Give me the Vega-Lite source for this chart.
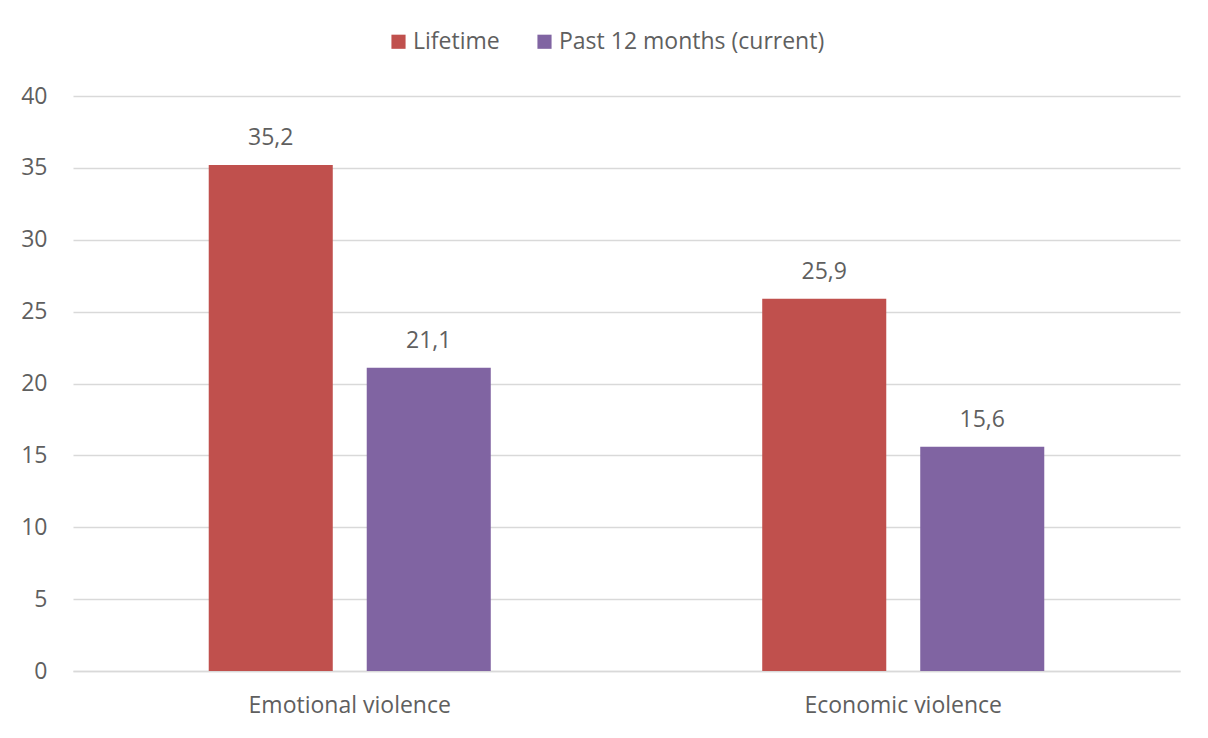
{
  "$schema": "https://vega.github.io/schema/vega-lite/v6.json",
  "autosize": {"type": "none"},
  "width": 1107,
  "height": 575,
  "padding": {"left": 73, "top": 96, "right": 28, "bottom": 67},
  "background": "white",
  "config": {
    "locale": {"number": {"decimal": ",", "thousands": ".", "grouping": [3], "currency": ["", ""]}},
    "view": {"stroke": null},
    "font": "Open Sans",
    "text": {"font": "Open Sans"}
  },
  "data": {
    "values": [
      {"category": "Emotional violence", "series": "Lifetime", "value": 35.2},
      {"category": "Emotional violence", "series": "Past 12 months (current)", "value": 21.1},
      {"category": "Economic violence", "series": "Lifetime", "value": 25.9},
      {"category": "Economic violence", "series": "Past 12 months (current)", "value": 15.6}
    ]
  },
  "encoding": {
    "x": {
      "field": "category",
      "type": "nominal",
      "sort": ["Emotional violence", "Economic violence"],
      "scale": {"paddingInner": 0, "paddingOuter": 0},
      "axis": {
        "title": null,
        "labelAngle": 0,
        "labelLimit": 0,
        "labelFont": "Open Sans",
        "labelFontSize": 23,
        "labelColor": "#5F5F5F",
        "labelPadding": 23,
        "ticks": false,
        "domainColor": "#D9D9D9",
        "domainWidth": 1.5
      }
    },
    "xOffset": {
      "field": "series",
      "type": "nominal",
      "sort": ["Lifetime", "Past 12 months (current)"],
      "scale": {"paddingInner": 0.215, "paddingOuter": 0.859}
    },
    "y": {
      "field": "value",
      "type": "quantitative",
      "scale": {"domain": [0, 40]},
      "axis": {
        "title": null,
        "values": [0, 5, 10, 15, 20, 25, 30, 35, 40],
        "labelFont": "Open Sans",
        "labelFontSize": 23,
        "labelColor": "#5F5F5F",
        "labelPadding": 26,
        "ticks": false,
        "domain": false,
        "gridColor": "#D9D9D9",
        "gridWidth": 1.5
      }
    }
  },
  "layer": [
    {
      "mark": {"type": "bar"},
      "encoding": {
        "color": {
          "field": "series",
          "type": "nominal",
          "scale": {"domain": ["Lifetime", "Past 12 months (current)"], "range": ["#C0504D", "#8064A2"]},
          "legend": {
            "title": null,
            "orient": "none",
            "direction": "horizontal",
            "legendX": 314,
            "legendY": -66,
            "symbolType": "square",
            "symbolSize": 200,
            "symbolStrokeWidth": 0,
            "labelFont": "Open Sans",
            "labelFontSize": 23,
            "labelLimit": 0,
            "labelColor": "#5F5F5F",
            "labelOffset": 3,
            "columnPadding": 33
          }
        }
      }
    },
    {
      "mark": {"type": "text", "baseline": "alphabetic", "dy": -20, "fontSize": 23, "color": "#5F5F5F", "font": "Open Sans"},
      "encoding": {
        "text": {"field": "value", "type": "quantitative", "format": ".1f"}
      }
    }
  ]
}
